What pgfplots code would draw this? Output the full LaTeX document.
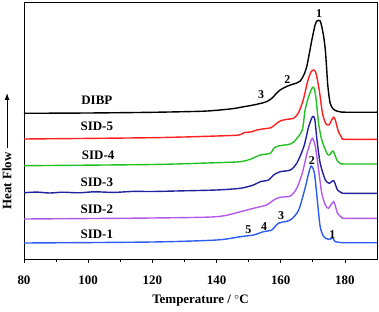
\documentclass[border=0pt]{standalone}
\usepackage{pgfplots}
\pgfplotsset{compat=1.18}
\usepackage{fontspec}
\setmainfont{Liberation Serif}
\usetikzlibrary{arrows.meta}
\definecolor{cred}{HTML}{FF2020}
\definecolor{cgreen}{HTML}{22C022}
\definecolor{cnavy}{HTML}{22229C}
\definecolor{cviolet}{HTML}{B45AEA}
\definecolor{cblue}{HTML}{2C5CF0}
\begin{document}
\begin{tikzpicture}
\path[use as bounding box] (-24bp,-53bp) rectangle (355bp,259bp);
\begin{axis}[
  at={(0,0)}, anchor=south west,
  scale only axis, width=353bp, height=257bp,
  xmin=80, xmax=190, ymin=0, ymax=257,
  xtick={80,100,...,180}, minor x tick num=1,
  ytick=\empty,
  xtick pos=bottom, tick align=outside,
  major tick length=4bp, minor tick length=2.5bp,
  axis line style={line width=0.8bp},
  every tick/.style={black, line width=0.8bp},
  /pgf/number format/assume math mode=true,
  ticklabel style={font=\fontsize{13}{15}\selectfont\bfseries},
  xticklabel style={anchor=center, yshift=-19bp},
  xticklabel shift=0pt,
  typeset ticklabels with strut,
  xlabel={Temperature / $^{\circ}$C},
  xlabel style={font=\fontsize{13}{15}\selectfont\bfseries, at={(rel axis cs:0.5,-0.163)}, anchor=center},
  clip=false,
  every axis plot/.append style={line width=1.4bp, smooth, tension=0.45},
]
% DIBP
\addplot[black] coordinates {(80,145.7)(100,146)(120,146.7)(135,147.7)(140,148.7)(145,150.3)(148,152)(151.5,154)(154.6,156.3)(156,158)(157.2,160.7)(158.5,165)(159.8,169)(161.5,172)(163,174)(165,176)(166.1,178)(167.2,184)(168.1,192.3)(169,207)(169.7,219)(170.7,234)(171.3,238)(171.8,238.7)(172.3,238)(172.8,232.3)(173.4,222)(173.9,209)(174.3,191)(174.6,176)(175,164)(175.4,156)(176,151.5)(177,148.5)(178.5,147.2)(180,146.8)(190,146.8)};
% SID-5
\addplot[cred] coordinates {(80,120)(120,121.3)(140,123)(147,124)(148.5,126.3)(151,127.3)(152.5,129)(155,130.3)(157,131.3)(158.5,135)(160,138.3)(162,139.7)(164,140.7)(165.5,146)(167,159)(168.5,179)(169.5,187.3)(170.3,189)(171,185.7)(172,169)(173,146)(174,135.7)(175,134)(176,139.7)(176.5,141.7)(177,139)(178,127.3)(179,121.7)(180,119.7)(190,119.7)};
% SID-4
\addplot[cgreen] coordinates {(80,93.3)(120,94.5)(140,96.3)(147.4,97.3)(150.5,99.7)(153.6,104)(156.8,105.7)(157.8,110.7)(159.3,113)(163,115)(164.6,119)(166.7,129)(167.6,149)(168.7,162.3)(169.9,171.7)(170.5,170)(171.05,159)(171.8,135.7)(172.8,119)(174.4,105.7)(175.2,104)(176.3,108)(177.5,99)(178.5,95.7)(180,95)(190,95)};
% SID-3
\addplot[cnavy] coordinates {(80,66.3)(84,66.9)(88,66.0)(92,66.8)(97,66.2)(102,67.2)(108,66.6)(114,67.6)(120,67.5)(130,68.2)(140,69)(147.4,70.7)(151.5,74)(153.6,77.3)(156.2,79)(157.8,84)(159.8,87.3)(163,89)(165,95.7)(167.2,112.3)(168.7,132.3)(169.9,142.3)(170.6,140)(171.3,119)(172.3,95.7)(173.9,79)(175.2,75.7)(176.5,78.3)(177.7,69)(179,66.3)(180,65.7)(190,65.7)};
% SID-2
\addplot[cviolet] coordinates {(80,40)(120,41)(140,42.3)(147.4,47.3)(151.5,50.7)(155.6,54)(157.8,59)(159.8,61.7)(163,63)(165,70.7)(166.7,85.7)(168.2,105.7)(169.3,117.3)(169.9,120.7)(170.8,112.3)(171.8,89)(172.8,65.7)(173.9,54)(174.9,50.7)(176.5,57.3)(177.7,45.7)(179,41.7)(180,40.7)(190,40.7)};
% SID-1
\addplot[cblue] coordinates {(80,16)(120,17)(140,19)(147.4,22.3)(151.5,24)(154.6,27.3)(157.2,29)(159.3,35.7)(163,39)(165.6,49)(167.7,72.3)(168.7,85.7)(169.5,93)(170.5,85.7)(171.5,55.7)(172.3,32.3)(173.4,22.3)(174.9,19.7)(176.3,20.7)(177,17.3)(180,16.3)(190,16.3)};
% curve names
\begin{scope}[every node/.style={font=\fontsize{13}{15}\selectfont\bfseries}]
\node at (axis cs:102.7,159) {DIBP};
\node at (axis cs:102.7,132.3) {SID-5};
\node at (axis cs:103.1,104) {SID-4};
\node at (axis cs:102.7,76.3) {SID-3};
\node at (axis cs:102.7,49.7) {SID-2};
\node at (axis cs:102.7,24.7) {SID-1};
\end{scope}
% peak numbers
\begin{scope}[every node/.style={font=\fontsize{12}{14}\selectfont\bfseries, inner sep=0pt}]
\node at (axis cs:172.0,245.7) {1};
\node at (axis cs:162.1,179.7) {2};
\node at (axis cs:153.9,164) {3};
\node at (axis cs:149.9,29) {5};
\node at (axis cs:154.8,32.3) {4};
\node at (axis cs:160.1,43) {3};
\node at (axis cs:169.7,98.3) {2};
\node at (axis cs:176.1,24) {1};
\end{scope}
% y label with arrow
\node[rotate=90, font=\fontsize{13}{15}\selectfont\bfseries] at (rel axis cs:-0.048,0.3035) {Heat Flow};
\draw[line width=1bp, -{Latex[length=7bp,width=5bp]}] (rel axis cs:-0.048,0.432) -- (rel axis cs:-0.048,0.646);
\end{axis}
\end{tikzpicture}
\end{document}
